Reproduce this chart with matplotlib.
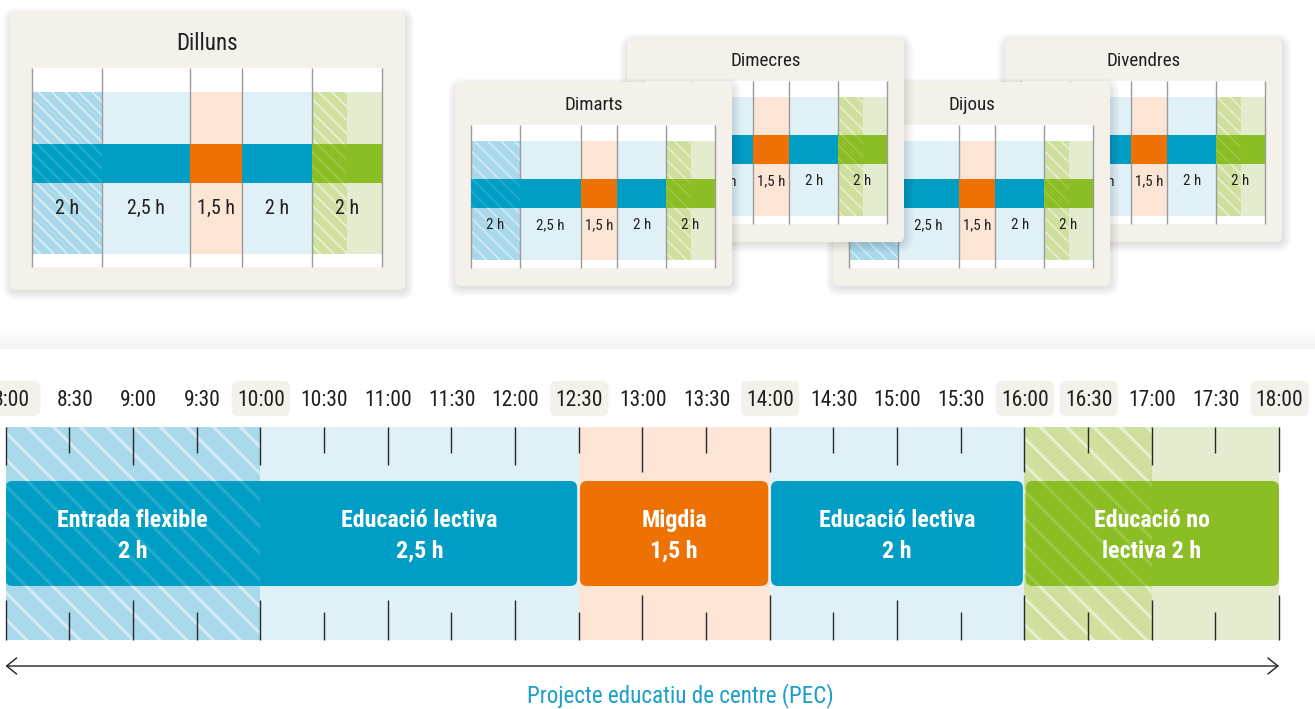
import numpy as np
import matplotlib
matplotlib.use("Agg")
import matplotlib.pyplot as plt
from matplotlib.patches import Rectangle, FancyBboxPatch, FancyArrowPatch, ArrowStyle

# ---------------- data ----------------
days = ["Dilluns", "Dimarts", "Dimecres", "Dijous", "Divendres"]
segment_names = ["Entrada flexible", "Educació lectiva", "Migdia",
                 "Educació lectiva", "Educació no lectiva"]
segment_hours = [2, 2.5, 1.5, 2, 2]
segment_hatched_hours = [2, 0, 0, 0, 1]
segment_kind = ["blue", "blue", "orange", "blue", "green"]
segment_main_labels = ["Entrada flexible\n2 h", "Educació lectiva\n2,5 h",
                       "Migdia\n1,5 h", "Educació lectiva\n2 h",
                       "Educació no\nlectiva 2 h"]
segment_short_labels = ["2 h", "2,5 h", "1,5 h", "2 h", "2 h"]
day_start = 8.0
day_end = 18.0
time_labels = ["8:00", "8:30", "9:00", "9:30", "10:00", "10:30", "11:00",
               "11:30", "12:00", "12:30", "13:00", "13:30", "14:00", "14:30",
               "15:00", "15:30", "16:00", "16:30", "17:00", "17:30", "18:00"]
highlighted_times = ["8:00", "10:00", "12:30", "14:00", "16:00", "16:30", "18:00"]
footer_text = "Projecte educatiu de centre (PEC)"

# ---------------- style ----------------
W, H = 1315, 709
DPI = 80
FONT = ["Roboto Condensed", "Archivo Narrow", "DejaVu Sans"]
plt.rcParams['font.family'] = FONT

DARK = {"blue": "#009DC5", "orange": "#EE7203", "green": "#8BBD24"}
LIGHT = {"blue": "#E0F0F7", "orange": "#FDE5D6", "green": "#E4ECCF"}
HBASE = {"blue": "#A8D8EA", "green": "#CEDF9E", "orange": "#FDE5D6"}
CARD = "#F4F1EA"
TEXT = "#1f1f1f"


def fs(px):
    return px * 72.0 / DPI


def frect(x0, y0, x1, y1):
    return [x0 / W, 1 - y1 / H, (x1 - x0) / W, (y1 - y0) / H]


def hatch_rect(ax, xy, w, h, color, hatch, lw_px, clip=None, z=2):
    p = Rectangle(xy, w, h, facecolor='none', edgecolor=color, linewidth=0,
                  hatch=hatch, zorder=z)
    try:
        p.set_hatch_linewidth(fs(lw_px))
    except AttributeError:
        pass
    ax.add_patch(p)
    if clip is not None:
        p.set_clip_path(clip)
    return p


starts = day_start + np.concatenate([[0.0], np.cumsum(segment_hours)[:-1]])
ends = starts + np.array(segment_hours)
times = day_start + 0.5 * np.arange(len(time_labels))

fig = plt.figure(figsize=(W / DPI, H / DPI), dpi=DPI)
fig.patch.set_facecolor("white")

# ---------------- background axes (pixel coords) ----------------
bg = fig.add_axes([0, 0, 1, 1])
bg.set_xlim(0, W)
bg.set_ylim(H, 0)
bg.axis('off')
bg.set_zorder(0)
for i in range(16):
    bg.add_patch(Rectangle((0, 333 + i), W, 1, facecolor='black',
                           alpha=0.004 * (i + 1) ** 0.9, linewidth=0))
bg.text(680, 696, footer_text, ha='center', va='center', color='#1A9FC8',
        fontsize=fs(23))

# ---------------- main timeline ----------------
MX0, MX1 = 5.5, 1279.0
PXH = (MX1 - MX0) / (day_end - day_start)
ax = fig.add_axes(frect(MX0, 360, MX1, 709))
ax.set_xlim(day_start, day_end)
ax.set_ylim(709, 360)
ax.axis('off')
ax.set_zorder(1)

BAND0, BAND1 = 427, 640
for s, e, hh, k in zip(starts, ends, segment_hatched_hours, segment_kind):
    ax.add_patch(Rectangle((s, BAND0), e - s, BAND1 - BAND0,
                           facecolor=LIGHT[k], linewidth=0, zorder=1))
    if hh > 0:
        ax.add_patch(Rectangle((s, BAND0), hh, BAND1 - BAND0,
                               facecolor=HBASE[k], linewidth=0, zorder=1))
        hatch_rect(ax, (s, BAND0), hh, BAND1 - BAND0, (1, 1, 1, 0.5),
                   '\\', 3.0, z=1.5)

# ticks (boundaries of the noon/afternoon blocks are drawn a bit longer)
long_hours = {13.0, 14.0, 16.0, 18.0}
for i, t in enumerate(times):
    half = (i % 2 == 1)
    if half:
        lt, lb = 26, 28
    elif t in long_hours:
        lt, lb = 45, 45
    else:
        lt, lb = 38, 40
    ax.plot([t, t], [BAND0, BAND0 + lt], color='#2a2a2a', lw=fs(1.4),
            zorder=3, solid_capstyle='butt', clip_on=False)
    ax.plot([t, t], [BAND1 - lb, BAND1], color='#2a2a2a', lw=fs(1.4),
            zorder=3, solid_capstyle='butt', clip_on=False)

# time labels (right edge sits a fixed distance right of the tick)
renderer = fig.canvas.get_renderer()
BW = 58.0 / PXH
for t, lab in zip(times, time_labels):
    txt = ax.text(t + 24.5 / PXH, 400, lab, ha='right', va='center',
                  fontsize=fs(21.5), color=TEXT, zorder=3, clip_on=False)
    if lab in highlighted_times:
        bb = txt.get_window_extent(renderer)
        cx = ax.transData.inverted().transform(((bb.x0 + bb.x1) / 2, 0))[0]
        ax.add_patch(FancyBboxPatch((cx - BW / 2, 381), BW, 35,
                                    boxstyle=f"round,pad=0,rounding_size={6 / PXH}",
                                    mutation_aspect=PXH, facecolor=CARD,
                                    linewidth=0, zorder=2, clip_on=False))

# main bars (merge consecutive segments of the same kind)
groups = []
for i, k in enumerate(segment_kind):
    if groups and groups[-1][0] == k:
        groups[-1][1].append(i)
    else:
        groups.append((k, [i]))

BAR0, BAR1 = 481, 586
gap = 1.4 / PXH
for k, idx in groups:
    gs = starts[idx[0]]
    ge = ends[idx[-1]]
    x0 = gs + (gap if gs > day_start else 0)
    x1 = ge - (gap if ge < day_end else 0)
    box = FancyBboxPatch((x0, BAR0), x1 - x0, BAR1 - BAR0,
                         boxstyle=f"round,pad=0,rounding_size={7 / PXH}",
                         mutation_aspect=PXH, facecolor=DARK[k], linewidth=0,
                         zorder=4)
    ax.add_patch(box)
    for i in idx:
        if segment_hatched_hours[i] > 0:
            hatch_rect(ax, (starts[i], BAR0), segment_hatched_hours[i],
                       BAR1 - BAR0, (1, 1, 1, 0.15), '\\', 3.0, clip=box, z=4.5)

for s, e, lab in zip(starts, ends, segment_main_labels):
    ax.text((s + e) / 2, 536, lab, ha='center', va='center', color='white',
            fontweight='bold', fontsize=fs(24), linespacing=1.4, zorder=5)

# double arrow
arr = FancyArrowPatch((day_start, 666), (day_end, 666),
                      arrowstyle=ArrowStyle('<->', head_length=fs(10), head_width=fs(8)),
                      mutation_scale=1, lw=fs(1.4), color='#222222',
                      shrinkA=0, shrinkB=0, clip_on=False, zorder=3)
ax.add_patch(arr)

# ---------------- day cards ----------------
big = dict(card=(10, 12, 405, 290), inner=(32, 382), white=(68, 267),
           band=(92, 254), bar=(144, 183), label_y=208, title_y=44,
           title_px=23, label_px=20, hatch='\\\\', hlw=1.9)
small = dict(card=(455, 82, 732, 286), inner=(471, 715), white=(125, 268),
             band=(141, 260), bar=(179, 208), label_y=225, title_y=105,
             title_px=19, label_px=15, hatch='\\\\', hlw=1.5)
offsets = {"Dimarts": (0, 0), "Dimecres": (172, -44), "Dijous": (378, 0),
           "Divendres": (550, -44)}
draw_order = ["Dilluns", "Divendres", "Dijous", "Dimecres", "Dimarts"]


def shifted(lay, dx, dy):
    c = lay['card']
    out = dict(lay)
    out['card'] = (c[0] + dx, c[1] + dy, c[2] + dx, c[3] + dy)
    out['inner'] = (lay['inner'][0] + dx, lay['inner'][1] + dx)
    for key in ('white', 'band', 'bar'):
        out[key] = (lay[key][0] + dy, lay[key][1] + dy)
    out['label_y'] = lay['label_y'] + dy
    out['title_y'] = lay['title_y'] + dy
    return out


zc = 2
for day in draw_order:
    lay = big if day == "Dilluns" else shifted(small, *offsets[day])
    cx0, cy0, cx1, cy1 = lay['card']
    m = 14
    cax = fig.add_axes(frect(cx0 - m, cy0 - m, cx1 + m, cy1 + m))
    cax.set_xlim(cx0 - m, cx1 + m)
    cax.set_ylim(cy1 + m, cy0 - m)
    cax.axis('off')
    cax.set_zorder(zc)
    for kk in range(7):
        e = 0.5 + kk * 1.3
        cax.add_patch(FancyBboxPatch((cx0 - e + 1, cy0 - e + 4),
                                     (cx1 - cx0) + 2 * e, (cy1 - cy0) + 2 * e - 2,
                                     boxstyle=f"round,pad=0,rounding_size={6 + e}",
                                     facecolor='black', alpha=0.016, linewidth=0))
    cax.add_patch(FancyBboxPatch((cx0, cy0), cx1 - cx0, cy1 - cy0,
                                 boxstyle="round,pad=0,rounding_size=6",
                                 facecolor=CARD, linewidth=0))
    cax.text((cx0 + cx1) / 2, lay['title_y'], day, ha='center', va='center',
             fontsize=fs(lay['title_px']), color=TEXT)

    ix0, ix1 = lay['inner']
    wy0, wy1 = lay['white']
    iax = fig.add_axes(frect(ix0, wy0, ix1, wy1))
    iax.set_xlim(day_start, day_end)
    iax.set_ylim(wy1, wy0)
    iax.axis('off')
    iax.set_zorder(zc + 0.5)
    iax.add_patch(Rectangle((day_start, wy0), day_end - day_start, wy1 - wy0,
                            facecolor='white', linewidth=0, zorder=0))
    b0, b1 = lay['band']
    r0, r1 = lay['bar']
    for s, e, hh, k in zip(starts, ends, segment_hatched_hours, segment_kind):
        iax.add_patch(Rectangle((s, b0), e - s, b1 - b0, facecolor=LIGHT[k],
                                linewidth=0, zorder=1))
        iax.add_patch(Rectangle((s, r0), e - s, r1 - r0, facecolor=DARK[k],
                                linewidth=0, zorder=3))
        if hh > 0:
            iax.add_patch(Rectangle((s, b0), hh, b1 - b0, facecolor=HBASE[k],
                                    linewidth=0, zorder=1.2))
            hatch_rect(iax, (s, b0), hh, b1 - b0, (1, 1, 1, 0.55),
                       lay['hatch'], lay['hlw'], z=1.5)
            hatch_rect(iax, (s, r0), hh, r1 - r0, (1, 1, 1, 0.16),
                       lay['hatch'], lay['hlw'], z=3.5)
    bounds = np.concatenate([starts, [ends[-1]]])
    for bx in bounds:
        iax.plot([bx, bx], [wy0, wy1], color='#9b9b9b', lw=fs(1.4), zorder=2,
                 clip_on=False, solid_capstyle='butt')
    for s, e, lab in zip(starts, ends, segment_short_labels):
        iax.text((s + e) / 2, lay['label_y'], lab, ha='center', va='center',
                 fontsize=fs(lay['label_px']), color=TEXT, zorder=4)
    zc += 1

fig.savefig("out.png", dpi=DPI, facecolor='white')
